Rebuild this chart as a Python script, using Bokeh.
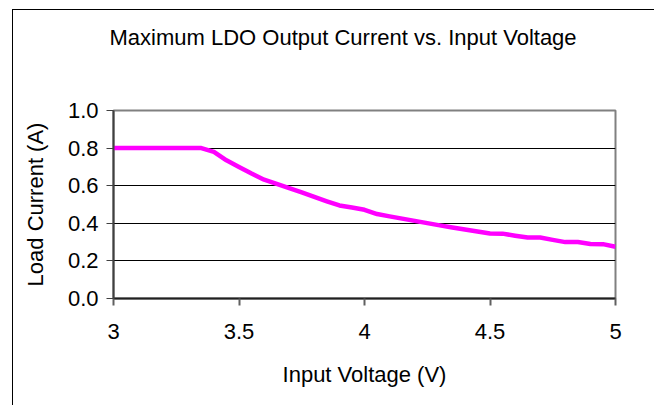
from bokeh.plotting import figure
from bokeh.models import Range1d, FixedTicker, ColumnDataSource, Title
from bokeh.embed import file_html
from bokeh.resources import INLINE

# ---- data ----
voltage = [3.00, 3.05, 3.10, 3.15, 3.20, 3.25, 3.30, 3.35, 3.40, 3.45,
           3.50, 3.55, 3.60, 3.65, 3.70, 3.75, 3.80, 3.85, 3.90, 3.95,
           4.00, 4.05, 4.10, 4.15, 4.20, 4.25, 4.30, 4.35, 4.40, 4.45,
           4.50, 4.55, 4.60, 4.65, 4.70, 4.75, 4.80, 4.85, 4.90, 4.95, 5.00]
load_current = [0.800, 0.800, 0.800, 0.800, 0.800, 0.800, 0.800, 0.800, 0.780, 0.735,
                0.700, 0.665, 0.632, 0.610, 0.587, 0.564, 0.540, 0.517, 0.495, 0.484,
                0.472, 0.449, 0.437, 0.425, 0.413, 0.401, 0.389, 0.378, 0.367, 0.356,
                0.346, 0.345, 0.334, 0.324, 0.324, 0.312, 0.300, 0.300, 0.290, 0.289, 0.275]
x_ticks = [3, 3.5, 4, 4.5, 5]
x_tick_labels = ["3", "3.5", "4", "4.5", "5"]
y_ticks = [0.0, 0.2, 0.4, 0.6, 0.8, 1.0]
y_tick_labels = ["0.0", "0.2", "0.4", "0.6", "0.8", "1.0"]
title_text = "Maximum LDO Output Current vs. Input Voltage"
x_label_text = "Input Voltage (V)"
y_label_text = "Load Current (A)"

FONT = "Liberation Sans"
FS = "22px"

p = figure(width=642, height=396, output_backend="svg", toolbar_location=None,
           x_range=Range1d(3, 5), y_range=Range1d(0, 1),
           min_border_left=100, min_border_right=40,
           min_border_top=100, min_border_bottom=108)
p.styles = {"border-top": "1px solid black", "border-left": "1px solid black",
            "border-right": "0px none", "border-bottom": "0px none",
            "outline": "none", "box-shadow": "none",
            "margin-left": "12px", "margin-top": "9px"}
p.background_fill_color = "white"
p.border_fill_color = None
p.outline_line_color = "#808080"
p.outline_line_width = 2

# chart title (outermost) plus an empty spacer panel between it and the frame
p.title = Title(text=title_text, align="left", offset=-4, standoff=22,
                text_font=FONT, text_font_size=FS, text_font_style="normal",
                text_color="black")
p.add_layout(Title(text=" ", standoff=37, text_font=FONT, text_font_size="10px"), "above")

p.xgrid.grid_line_color = None
p.ygrid.ticker = FixedTicker(ticks=[0.2, 0.4, 0.6, 0.8])
p.ygrid.grid_line_color = "black"
p.ygrid.grid_line_width = 1

xa = p.xaxis[0]
xa.ticker = FixedTicker(ticks=x_ticks)
xa.major_label_overrides = {t: l for t, l in zip(x_ticks, x_tick_labels)}
xa.major_label_text_font = FONT
xa.major_label_text_font_size = FS
xa.major_label_text_color = "black"
xa.major_tick_in = 0
xa.major_tick_out = 7
xa.minor_tick_line_color = None
xa.major_tick_line_color = "#606060"
xa.major_tick_line_width = 2
xa.axis_line_color = "#202020"
xa.axis_line_width = 2
xa.major_label_standoff = 18
xa.axis_label = x_label_text
xa.axis_label_text_font = FONT
xa.axis_label_text_font_size = FS
xa.axis_label_text_font_style = "normal"
xa.axis_label_text_color = "black"
xa.axis_label_standoff = 20

ya = p.yaxis[0]
ya.ticker = FixedTicker(ticks=y_ticks)
ya.major_label_overrides = {t: l for t, l in zip(y_ticks, y_tick_labels)}
ya.major_label_text_font = FONT
ya.major_label_text_font_size = FS
ya.major_label_text_color = "black"
ya.major_tick_in = 0
ya.major_tick_out = 7
ya.minor_tick_line_color = None
ya.major_tick_line_color = "#404040"
ya.major_tick_line_width = 1
ya.axis_line_color = "#404040"
ya.axis_line_width = 2
ya.major_label_standoff = 8
ya.axis_label = y_label_text
ya.axis_label_text_font = FONT
ya.axis_label_text_font_size = FS
ya.axis_label_text_font_style = "normal"
ya.axis_label_text_color = "black"
ya.axis_label_standoff = 17

src = ColumnDataSource(data=dict(v=voltage, i=load_current))
p.line("v", "i", source=src, line_color="#FF00FF", line_width=4.5, line_join="round")

open("out.html", "w").write(file_html(p, INLINE))
